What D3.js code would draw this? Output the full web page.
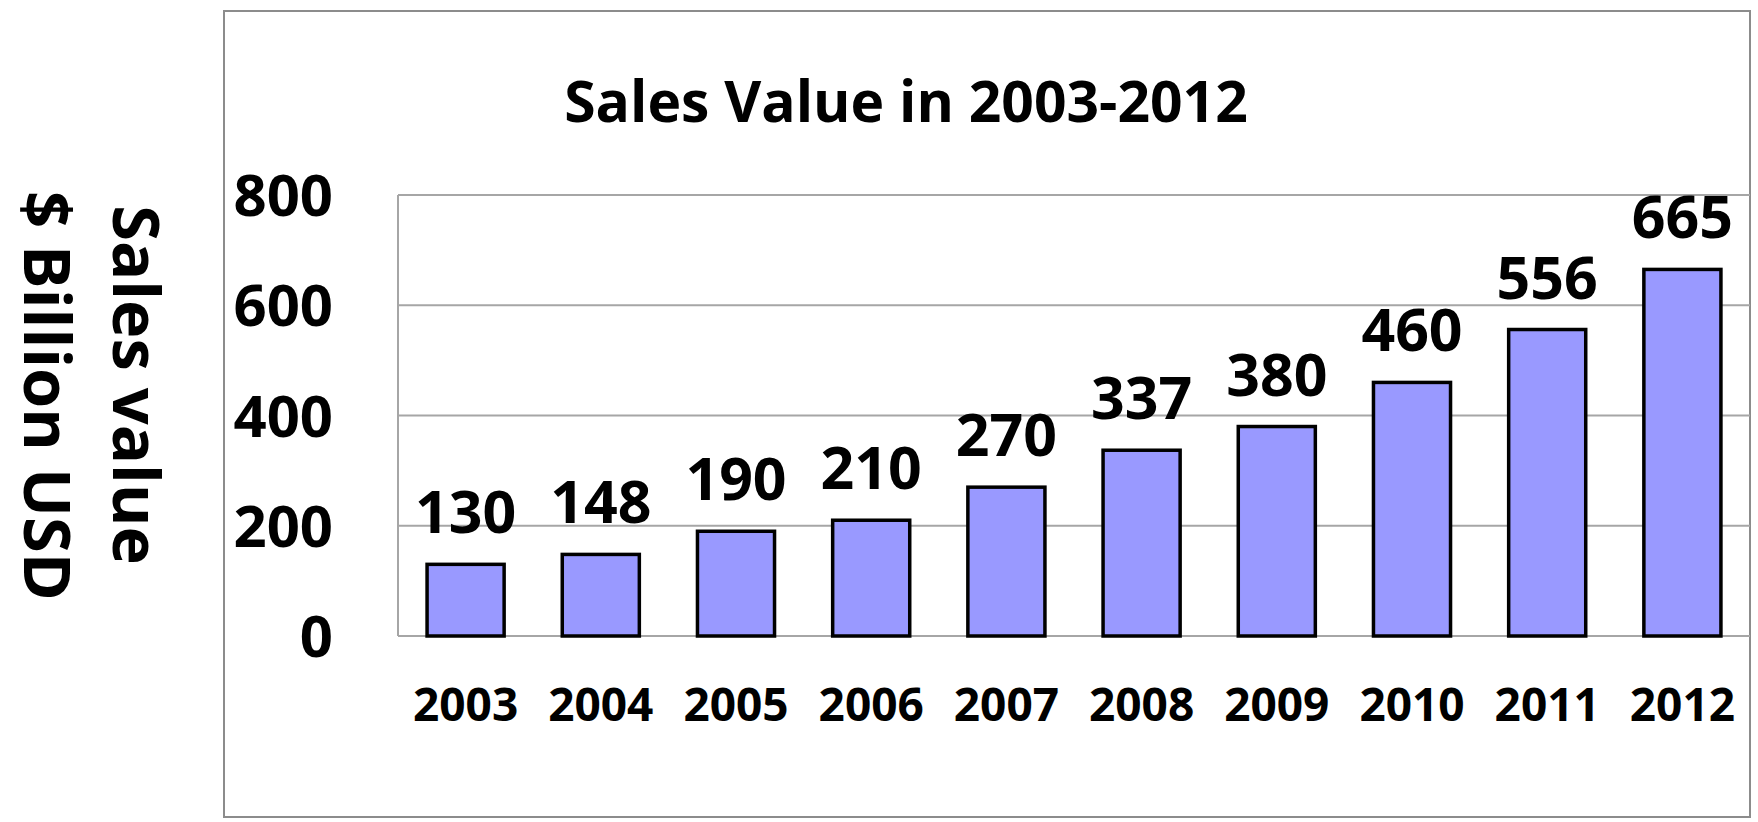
<!DOCTYPE html>
<html lang="en">
<head>
<meta charset="UTF-8">
<title>Sales Value in 2003-2012</title>
<script src="https://d3js.org/d3.v7.min.js"></script>
<style>
  body {
    margin: 0;
    background: #fff;
  }
  svg text {
    font-family: "Open Sans", Lato, Arial, sans-serif;
    font-weight: bold;
    fill: #000;
  }
  .grid line {
    stroke: #a6a6a6;
    stroke-width: 2;
  }
  .bar {
    fill: #9999ff;
    stroke: #000;
    stroke-width: 3.5;
  }
</style>
</head>
<body>
<svg id="chart"></svg>

<script>
// data
var years = ["2003", "2004", "2005", "2006", "2007", "2008", "2009", "2010", "2011", "2012"];
var sales = [130, 148, 190, 210, 270, 337, 380, 460, 556, 665];
var yTicks = [0, 200, 400, 600, 800];

var width = 1758, height = 822;

var svg = d3.select("#chart")
  .attr("width", width)
  .attr("height", height);

// outer frame
svg.append("rect")
  .attr("x", 224).attr("y", 11)
  .attr("width", 1750 - 224).attr("height", 817 - 11)
  .attr("fill", "#fff")
  .attr("stroke", "#8c8c8c")
  .attr("stroke-width", 2);

// plot area
var plot = { left: 398, right: 1750, top: 195, bottom: 636 };

var x = d3.scaleBand()
  .domain(years)
  .range([plot.left, plot.right])
  .paddingInner(0.43)
  .paddingOuter(0.215);

var y = d3.scaleLinear()
  .domain([0, 800])
  .range([plot.bottom, plot.top]);

// gridlines
var grid = svg.append("g").attr("class", "grid");
grid.selectAll("line.h")
  .data(yTicks)
  .enter()
  .append("line")
  .attr("class", "h")
  .attr("x1", plot.left)
  .attr("x2", plot.right)
  .attr("y1", d => y(d))
  .attr("y2", d => y(d));
grid.append("line")
  .attr("x1", plot.left).attr("x2", plot.left)
  .attr("y1", plot.top).attr("y2", plot.bottom);

// y tick labels
svg.selectAll("text.ytick")
  .data(yTicks)
  .enter()
  .append("text")
  .attr("class", "ytick")
  .attr("x", 333)
  .attr("y", d => y(d) + 21)
  .attr("text-anchor", "end")
  .attr("font-size", 58)
  .text(d => d);

// bars
svg.selectAll("rect.bar")
  .data(sales)
  .enter()
  .append("rect")
  .attr("class", "bar")
  .attr("x", (d, i) => x(years[i]))
  .attr("y", d => y(d))
  .attr("width", x.bandwidth())
  .attr("height", d => y(0) - y(d));

// value labels
svg.selectAll("text.value")
  .data(sales)
  .enter()
  .append("text")
  .attr("class", "value")
  .attr("x", (d, i) => x(years[i]) + x.bandwidth() / 2)
  .attr("y", d => y(d) - 31)
  .attr("text-anchor", "middle")
  .attr("font-size", 59)
  .text(d => d);

// year labels
svg.selectAll("text.year")
  .data(years)
  .enter()
  .append("text")
  .attr("class", "year")
  .attr("x", d => x(d) + x.bandwidth() / 2)
  .attr("y", 721)
  .attr("text-anchor", "middle")
  .attr("font-size", 46)
  .text(d => d);

// title
svg.append("text")
  .attr("x", 906)
  .attr("y", 122)
  .attr("text-anchor", "middle")
  .attr("font-size", 57)
  .text("Sales Value in 2003-2012");

// y axis title (two lines, rotated)
svg.append("text")
  .attr("transform", "translate(113,385) rotate(90)")
  .attr("text-anchor", "middle")
  .attr("font-size", 65)
  .text("Sales value");
svg.append("text")
  .attr("transform", "translate(24,396) rotate(90)")
  .attr("text-anchor", "middle")
  .attr("font-size", 65)
  .text("$ Billion USD");
</script>
</body>
</html>
